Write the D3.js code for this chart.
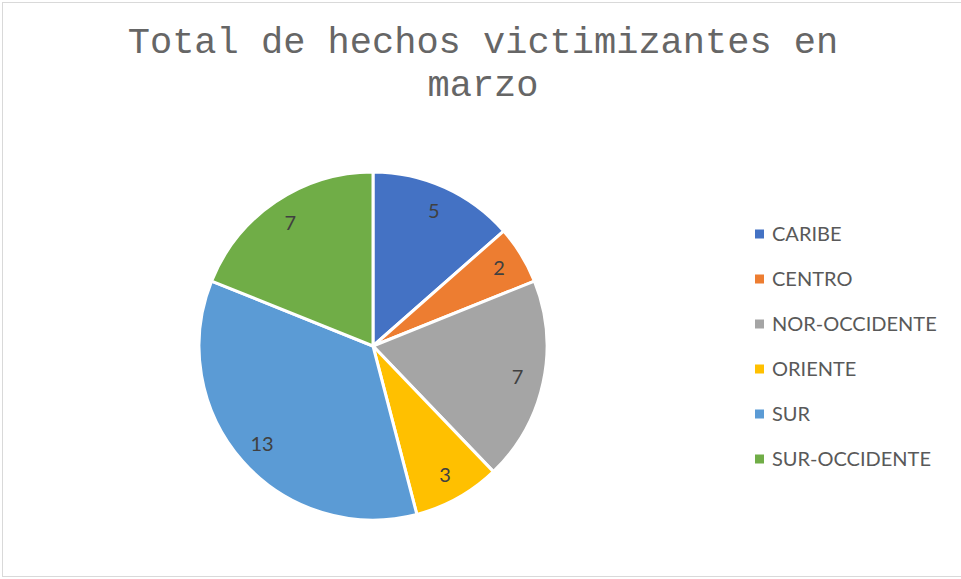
<!DOCTYPE html>
<html>
<head>
<meta charset="utf-8">
<script src="https://cdn.jsdelivr.net/npm/d3@7"></script>
<style>
  body { margin: 0; background: #fff; }
</style>
</head>
<body>
<div id="chart"></div>
<script>
// data
var regions = ["CARIBE", "CENTRO", "NOR-OCCIDENTE", "ORIENTE", "SUR", "SUR-OCCIDENTE"];
var totals = [5, 2, 7, 3, 13, 7];
var colors = ["#4472C4", "#ED7D31", "#A5A5A5", "#FFC000", "#5B9BD5", "#70AD47"];
var titleLines = ["Total de hechos victimizantes en", "marzo"];

var width = 961, height = 579;

var svg = d3.select("#chart")
    .append("svg")
    .attr("width", width)
    .attr("height", height);

// chart area border
svg.append("rect")
    .attr("x", 2.5)
    .attr("y", 2.5)
    .attr("width", 964)
    .attr("height", 574)
    .attr("fill", "#fff")
    .attr("stroke", "#d9d9d9")
    .attr("stroke-width", 1);

// title
svg.selectAll("text.title")
    .data(titleLines)
    .enter()
    .append("text")
      .attr("class", "title")
      .attr("x", 483)
      .attr("y", function(d, i){ return 53 + i * 43 })
      .attr("text-anchor", "middle")
      .attr("font-family", "'Liberation Mono', 'DejaVu Sans Mono', monospace")
      .attr("font-size", "37px")
      .attr("fill", "#666666")
      .text(function(d){ return d });

var cx = 373, cy = 346, radius = 174;

var pieData = regions.map(function(r, i){ return { name: r, value: totals[i], color: colors[i] } });

var pie = d3.pie()
    .sort(null)
    .value(function(d){ return d.value });

var arc = d3.arc()
    .innerRadius(0)
    .outerRadius(radius);

var labelArc = d3.arc()
    .innerRadius(radius * 0.85)
    .outerRadius(radius * 0.85);

var g = svg.append("g")
    .attr("transform", "translate(" + cx + "," + cy + ")");

var slices = pie(pieData);

g.selectAll("path")
    .data(slices)
    .enter()
    .append("path")
      .attr("d", arc)
      .attr("fill", function(d){ return d.data.color })
      .attr("stroke", "#fff")
      .attr("stroke-width", 3)
      .attr("stroke-linejoin", "round");

g.selectAll("text.value")
    .data(slices)
    .enter()
    .append("text")
      .attr("class", "value")
      .attr("transform", function(d){ return "translate(" + labelArc.centroid(d) + ")" })
      .attr("text-anchor", "middle")
      .attr("dy", "0.35em")
      .attr("font-family", "Lato, 'Open Sans', sans-serif")
      .attr("font-size", "20px")
      .attr("fill", "#404040")
      .text(function(d){ return d.data.value });

// legend
var legendY = d3.scalePoint()
    .domain(regions)
    .range([234, 459]);

var legend = svg.selectAll("g.legend")
    .data(pieData)
    .enter()
    .append("g")
      .attr("class", "legend")
      .attr("transform", function(d){ return "translate(755," + legendY(d.name) + ")" });

legend.append("rect")
    .attr("x", 0)
    .attr("y", -4.5)
    .attr("width", 9)
    .attr("height", 9)
    .attr("fill", function(d){ return d.color });

legend.append("text")
    .attr("x", 17)
    .attr("y", 0)
    .attr("dy", "0.36em")
    .attr("font-family", "Lato, 'Open Sans', sans-serif")
    .attr("font-size", "20px")
    .attr("fill", "#595959")
    .text(function(d){ return d.name });
</script>
</body>
</html>
